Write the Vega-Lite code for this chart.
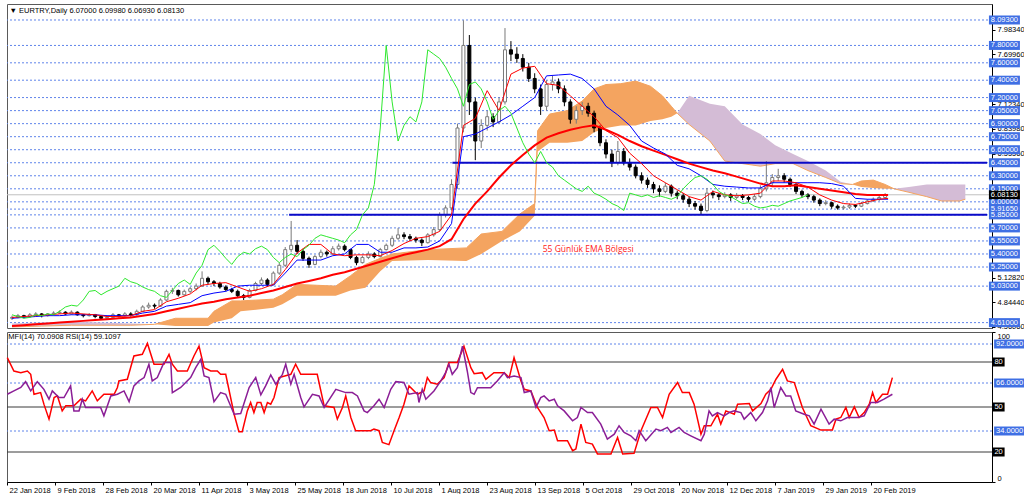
{
"$schema":"https://vega.github.io/schema/vega-lite/v6.json",
"background":"#ffffff",
"padding":{"left":3,"top":3,"right":0,"bottom":0},
"spacing":4,
"bounds":"flush",
"config":{"view":{"stroke":"#5a5a5a","strokeWidth":1},"font":"Liberation Sans","axis":{"labelFont":"Liberation Sans","labelFontSize":7.5,"labelColor":"#000","domainColor":"#000","tickColor":"#000","grid":false}},
"datasets":{
"cd":[
{"i":0,"o":4.66,"h":4.69,"l":4.64,"c":4.67,"g":4.70},
{"i":2,"o":4.67,"h":4.71,"l":4.66,"c":4.69,"g":4.68},
{"i":4,"o":4.69,"h":4.70,"l":4.66,"c":4.68,"g":4.66},
{"i":6,"o":4.68,"h":4.72,"l":4.67,"c":4.70,"g":4.67},
{"i":8,"o":4.70,"h":4.73,"l":4.69,"c":4.71,"g":4.70},
{"i":10,"o":4.71,"h":4.72,"l":4.67,"c":4.69,"g":4.69},
{"i":12,"o":4.69,"h":4.72,"l":4.68,"c":4.71,"g":4.71},
{"i":14,"o":4.71,"h":4.74,"l":4.70,"c":4.72,"g":4.70},
{"i":16,"o":4.72,"h":4.75,"l":4.71,"c":4.73,"g":4.74},
{"i":18,"o":4.73,"h":4.74,"l":4.70,"c":4.71,"g":4.79},
{"i":20,"o":4.71,"h":4.75,"l":4.70,"c":4.73,"g":4.81},
{"i":22,"o":4.73,"h":4.74,"l":4.69,"c":4.70,"g":4.80},
{"i":24,"o":4.70,"h":4.71,"l":4.67,"c":4.69,"g":4.87},
{"i":26,"o":4.69,"h":4.72,"l":4.68,"c":4.70,"g":4.97},
{"i":28,"o":4.70,"h":4.71,"l":4.66,"c":4.68,"g":4.98},
{"i":30,"o":4.68,"h":4.69,"l":4.64,"c":4.66,"g":4.93},
{"i":32,"o":4.66,"h":4.69,"l":4.64,"c":4.67,"g":4.97},
{"i":34,"o":4.67,"h":4.72,"l":4.66,"c":4.70,"g":5.00},
{"i":36,"o":4.70,"h":4.71,"l":4.67,"c":4.69,"g":5.03},
{"i":38,"o":4.69,"h":4.73,"l":4.68,"c":4.71,"g":5.12},
{"i":40,"o":4.71,"h":4.73,"l":4.68,"c":4.70,"g":5.08},
{"i":42,"o":4.70,"h":4.76,"l":4.69,"c":4.74,"g":5.06},
{"i":44,"o":4.74,"h":4.81,"l":4.73,"c":4.79,"g":5.02},
{"i":46,"o":4.79,"h":4.84,"l":4.77,"c":4.81,"g":4.99},
{"i":48,"o":4.81,"h":4.83,"l":4.77,"c":4.80,"g":4.97},
{"i":50,"o":4.80,"h":4.89,"l":4.79,"c":4.87,"g":4.92},
{"i":52,"o":4.87,"h":4.99,"l":4.86,"c":4.97,"g":4.90},
{"i":54,"o":4.97,"h":5.01,"l":4.94,"c":4.98,"g":4.98},
{"i":56,"o":4.98,"h":4.99,"l":4.91,"c":4.93,"g":5.06},
{"i":58,"o":4.93,"h":4.99,"l":4.92,"c":4.97,"g":5.10},
{"i":60,"o":4.97,"h":5.02,"l":4.95,"c":5.00,"g":5.05},
{"i":62,"o":5.00,"h":5.06,"l":4.98,"c":5.03,"g":5.18},
{"i":64,"o":5.03,"h":5.20,"l":5.02,"c":5.12,"g":5.27},
{"i":66,"o":5.12,"h":5.14,"l":5.05,"c":5.08,"g":5.45},
{"i":68,"o":5.08,"h":5.10,"l":5.03,"c":5.06,"g":5.50},
{"i":70,"o":5.06,"h":5.08,"l":5.00,"c":5.02,"g":5.43},
{"i":72,"o":5.02,"h":5.04,"l":4.97,"c":4.99,"g":5.35},
{"i":74,"o":4.99,"h":5.01,"l":4.95,"c":4.97,"g":5.28},
{"i":76,"o":4.97,"h":4.99,"l":4.90,"c":4.92,"g":5.37},
{"i":78,"o":4.92,"h":4.94,"l":4.87,"c":4.90,"g":5.42},
{"i":80,"o":4.90,"h":5.00,"l":4.89,"c":4.98,"g":5.40},
{"i":82,"o":4.98,"h":5.08,"l":4.97,"c":5.06,"g":5.46},
{"i":84,"o":5.06,"h":5.13,"l":5.04,"c":5.10,"g":5.49},
{"i":86,"o":5.10,"h":5.12,"l":5.02,"c":5.05,"g":5.45},
{"i":88,"o":5.05,"h":5.20,"l":5.04,"c":5.18,"g":5.36},
{"i":90,"o":5.18,"h":5.30,"l":5.16,"c":5.27,"g":5.30},
{"i":92,"o":5.27,"h":5.48,"l":5.25,"c":5.45,"g":5.36},
{"i":94,"o":5.45,"h":5.78,"l":5.42,"c":5.50,"g":5.40},
{"i":96,"o":5.50,"h":5.56,"l":5.40,"c":5.43,"g":5.37},
{"i":98,"o":5.43,"h":5.46,"l":5.32,"c":5.35,"g":5.45},
{"i":100,"o":5.35,"h":5.37,"l":5.24,"c":5.28,"g":5.50},
{"i":102,"o":5.28,"h":5.39,"l":5.27,"c":5.37,"g":5.58},
{"i":104,"o":5.37,"h":5.45,"l":5.35,"c":5.42,"g":5.62},
{"i":106,"o":5.42,"h":5.44,"l":5.37,"c":5.40,"g":5.60},
{"i":108,"o":5.40,"h":5.49,"l":5.39,"c":5.46,"g":5.58},
{"i":110,"o":5.46,"h":5.52,"l":5.44,"c":5.49,"g":5.56},
{"i":112,"o":5.49,"h":5.51,"l":5.43,"c":5.45,"g":5.53},
{"i":114,"o":5.45,"h":5.46,"l":5.34,"c":5.36,"g":5.62},
{"i":116,"o":5.36,"h":5.38,"l":5.27,"c":5.30,"g":5.68},
{"i":118,"o":5.30,"h":5.38,"l":5.29,"c":5.36,"g":5.85},
{"i":120,"o":5.36,"h":5.43,"l":5.34,"c":5.40,"g":5.93},
{"i":122,"o":5.40,"h":5.42,"l":5.35,"c":5.37,"g":6.20},
{"i":124,"o":5.37,"h":5.47,"l":5.36,"c":5.45,"g":6.85},
{"i":126,"o":5.45,"h":5.52,"l":5.44,"c":5.50,"g":7.80},
{"i":128,"o":5.50,"h":5.61,"l":5.48,"c":5.58,"g":7.15},
{"i":130,"o":5.58,"h":5.70,"l":5.56,"c":5.62,"g":6.70},
{"i":132,"o":5.62,"h":5.65,"l":5.57,"c":5.60,"g":6.88},
{"i":134,"o":5.60,"h":5.63,"l":5.55,"c":5.58,"g":6.98},
{"i":136,"o":5.58,"h":5.60,"l":5.53,"c":5.56,"g":6.92},
{"i":138,"o":5.56,"h":5.58,"l":5.49,"c":5.53,"g":7.15},
{"i":140,"o":5.53,"h":5.64,"l":5.52,"c":5.62,"g":7.75},
{"i":142,"o":5.62,"h":5.71,"l":5.60,"c":5.68,"g":7.70},
{"i":144,"o":5.68,"h":5.88,"l":5.66,"c":5.85,"g":7.65},
{"i":146,"o":5.85,"h":5.96,"l":5.82,"c":5.93,"g":7.55},
{"i":148,"o":5.93,"h":6.26,"l":5.90,"c":6.20,"g":7.42},
{"i":150,"o":6.20,"h":6.90,"l":6.15,"c":6.85,"g":7.30},
{"i":152,"o":6.85,"h":8.09,"l":6.80,"c":7.80,"g":7.10},
{"i":154,"o":7.80,"h":7.92,"l":7.00,"c":7.15,"g":7.35},
{"i":156,"o":7.15,"h":7.20,"l":6.48,"c":6.70,"g":7.38},
{"i":158,"o":6.70,"h":6.95,"l":6.62,"c":6.88,"g":7.30},
{"i":160,"o":6.88,"h":7.05,"l":6.82,"c":6.98,"g":7.15},
{"i":162,"o":6.98,"h":7.02,"l":6.86,"c":6.92,"g":6.95},
{"i":164,"o":6.92,"h":7.20,"l":6.90,"c":7.15,"g":7.05},
{"i":166,"o":7.15,"h":8.00,"l":7.12,"c":7.75,"g":7.10},
{"i":168,"o":7.75,"h":7.85,"l":7.62,"c":7.70,"g":7.02},
{"i":170,"o":7.70,"h":7.78,"l":7.60,"c":7.65,"g":6.85},
{"i":172,"o":7.65,"h":7.70,"l":7.50,"c":7.55,"g":6.68},
{"i":174,"o":7.55,"h":7.60,"l":7.38,"c":7.42,"g":6.55},
{"i":176,"o":7.42,"h":7.48,"l":7.25,"c":7.30,"g":6.45},
{"i":178,"o":7.30,"h":7.35,"l":7.00,"c":7.10,"g":6.58},
{"i":180,"o":7.10,"h":7.40,"l":7.05,"c":7.35,"g":6.45},
{"i":182,"o":7.35,"h":7.45,"l":7.28,"c":7.38,"g":6.40},
{"i":184,"o":7.38,"h":7.42,"l":7.25,"c":7.30,"g":6.30},
{"i":186,"o":7.30,"h":7.34,"l":7.10,"c":7.15,"g":6.25},
{"i":188,"o":7.15,"h":7.18,"l":6.90,"c":6.95,"g":6.20},
{"i":190,"o":6.95,"h":7.10,"l":6.90,"c":7.05,"g":6.15},
{"i":192,"o":7.05,"h":7.15,"l":7.00,"c":7.10,"g":6.12},
{"i":194,"o":7.10,"h":7.14,"l":6.98,"c":7.02,"g":6.18},
{"i":196,"o":7.02,"h":7.05,"l":6.80,"c":6.85,"g":6.10},
{"i":198,"o":6.85,"h":6.88,"l":6.64,"c":6.68,"g":6.07},
{"i":200,"o":6.68,"h":6.72,"l":6.50,"c":6.55,"g":6.03},
{"i":202,"o":6.55,"h":6.60,"l":6.40,"c":6.45,"g":5.98},
{"i":204,"o":6.45,"h":6.70,"l":6.42,"c":6.58,"g":5.95},
{"i":206,"o":6.58,"h":6.62,"l":6.42,"c":6.45,"g":5.90},
{"i":208,"o":6.45,"h":6.50,"l":6.36,"c":6.40,"g":6.10},
{"i":210,"o":6.40,"h":6.43,"l":6.27,"c":6.30,"g":6.08},
{"i":212,"o":6.30,"h":6.34,"l":6.21,"c":6.25,"g":6.06},
{"i":214,"o":6.25,"h":6.28,"l":6.16,"c":6.20,"g":6.08},
{"i":216,"o":6.20,"h":6.23,"l":6.10,"c":6.15,"g":6.05},
{"i":218,"o":6.15,"h":6.19,"l":6.06,"c":6.12,"g":6.07},
{"i":220,"o":6.12,"h":6.22,"l":6.10,"c":6.18,"g":6.05},
{"i":222,"o":6.18,"h":6.20,"l":6.06,"c":6.10,"g":6.03},
{"i":224,"o":6.10,"h":6.13,"l":6.03,"c":6.07,"g":6.06},
{"i":226,"o":6.07,"h":6.10,"l":5.99,"c":6.03,"g":6.15},
{"i":228,"o":6.03,"h":6.06,"l":5.94,"c":5.98,"g":6.22},
{"i":230,"o":5.98,"h":6.01,"l":5.91,"c":5.95,"g":6.28},
{"i":232,"o":5.95,"h":5.98,"l":5.86,"c":5.90,"g":6.30},
{"i":234,"o":5.90,"h":6.16,"l":5.88,"c":6.10,"g":6.26},
{"i":236,"o":6.10,"h":6.13,"l":6.04,"c":6.08,"g":6.20},
{"i":238,"o":6.08,"h":6.10,"l":6.02,"c":6.06,"g":6.12},
{"i":240,"o":6.06,"h":6.11,"l":6.04,"c":6.08,"g":6.08},
{"i":242,"o":6.08,"h":6.10,"l":6.01,"c":6.05,"g":6.06},
{"i":244,"o":6.05,"h":6.10,"l":6.03,"c":6.07,"g":6.02},
{"i":246,"o":6.07,"h":6.09,"l":6.02,"c":6.05,"g":5.98},
{"i":248,"o":6.05,"h":6.07,"l":6.00,"c":6.03,"g":5.99},
{"i":250,"o":6.03,"h":6.09,"l":6.01,"c":6.06,"g":5.95},
{"i":252,"o":6.06,"h":6.19,"l":6.04,"c":6.15,"g":5.93},
{"i":254,"o":6.15,"h":6.47,"l":6.12,"c":6.22,"g":5.94},
{"i":256,"o":6.22,"h":6.32,"l":6.18,"c":6.28,"g":5.96},
{"i":258,"o":6.28,"h":6.38,"l":6.24,"c":6.30,"g":5.95},
{"i":260,"o":6.30,"h":6.33,"l":6.22,"c":6.26,"g":5.98},
{"i":262,"o":6.26,"h":6.28,"l":6.17,"c":6.20,"g":6.01},
{"i":264,"o":6.20,"h":6.22,"l":6.09,"c":6.12,"g":6.03},
{"i":266,"o":6.12,"h":6.14,"l":6.05,"c":6.08,"g":6.05},
{"i":268,"o":6.08,"h":6.10,"l":6.03,"c":6.06,"g":6.08},
{"i":270,"o":6.06,"h":6.08,"l":5.99,"c":6.02},
{"i":272,"o":6.02,"h":6.04,"l":5.95,"c":5.98},
{"i":274,"o":5.98,"h":6.02,"l":5.96,"c":5.99},
{"i":276,"o":5.99,"h":6.00,"l":5.92,"c":5.95},
{"i":278,"o":5.95,"h":5.97,"l":5.91,"c":5.93},
{"i":280,"o":5.93,"h":5.96,"l":5.91,"c":5.94},
{"i":282,"o":5.94,"h":5.98,"l":5.92,"c":5.96},
{"i":284,"o":5.96,"h":5.97,"l":5.93,"c":5.95},
{"i":286,"o":5.95,"h":6.00,"l":5.94,"c":5.98},
{"i":288,"o":5.98,"h":6.03,"l":5.97,"c":6.01},
{"i":290,"o":6.01,"h":6.05,"l":6.00,"c":6.03},
{"i":292,"o":6.03,"h":6.07,"l":6.01,"c":6.05},
{"i":294,"o":6.05,"h":6.10,"l":6.04,"c":6.08}
],
"ln":[
{"i":0,"t":4.67,"k":4.66,"e":4.57},{"i":4,"t":4.68,"k":4.67,"e":4.58},{"i":8,"t":4.69,"k":4.68,"e":4.59},{"i":12,"t":4.70,"k":4.69,"e":4.60},
{"i":16,"t":4.71,"k":4.69,"e":4.61},{"i":20,"t":4.72,"k":4.70,"e":4.62},{"i":24,"t":4.71,"k":4.70,"e":4.63},{"i":28,"t":4.70,"k":4.70,"e":4.64},
{"i":32,"t":4.68,"k":4.69,"e":4.65},{"i":36,"t":4.68,"k":4.69,"e":4.66},{"i":40,"t":4.69,"k":4.69,"e":4.67},{"i":44,"t":4.74,"k":4.72,"e":4.69},
{"i":48,"t":4.76,"k":4.74,"e":4.71},{"i":52,"t":4.85,"k":4.80,"e":4.74},{"i":56,"t":4.89,"k":4.82,"e":4.77},{"i":60,"t":4.94,"k":4.84,"e":4.80},
{"i":64,"t":5.04,"k":4.92,"e":4.83},{"i":68,"t":5.06,"k":4.95,"e":4.85},{"i":72,"t":5.07,"k":4.97,"e":4.88},{"i":76,"t":5.02,"k":5.03,"e":4.90},
{"i":80,"t":4.97,"k":5.04,"e":4.92},{"i":84,"t":5.00,"k":5.04,"e":4.95},{"i":88,"t":5.05,"k":5.04,"e":4.98},{"i":92,"t":5.22,"k":5.18,"e":5.02},
{"i":96,"t":5.41,"k":5.33,"e":5.06},{"i":100,"t":5.51,"k":5.33,"e":5.09},{"i":104,"t":5.51,"k":5.33,"e":5.12},{"i":108,"t":5.40,"k":5.38,"e":5.16},
{"i":112,"t":5.38,"k":5.40,"e":5.19},{"i":116,"t":5.39,"k":5.51,"e":5.23},{"i":120,"t":5.39,"k":5.51,"e":5.27},{"i":124,"t":5.38,"k":5.42,"e":5.31},
{"i":128,"t":5.44,"k":5.42,"e":5.35},{"i":132,"t":5.52,"k":5.47,"e":5.39},{"i":136,"t":5.58,"k":5.47,"e":5.42},{"i":140,"t":5.60,"k":5.48,"e":5.45},
{"i":144,"t":5.66,"k":5.55,"e":5.49},{"i":148,"t":5.85,"k":5.75,"e":5.57},{"i":152,"t":6.88,"k":6.75,"e":5.80},{"i":156,"t":6.96,"k":6.78,"e":5.98},
{"i":160,"t":7.28,"k":6.85,"e":6.12},{"i":164,"t":7.05,"k":6.92,"e":6.28},{"i":168,"t":7.47,"k":7.00,"e":6.42},{"i":172,"t":7.54,"k":7.10,"e":6.54},
{"i":176,"t":7.56,"k":7.20,"e":6.65},{"i":180,"t":7.36,"k":7.45,"e":6.74},{"i":184,"t":7.34,"k":7.46,"e":6.79},{"i":188,"t":7.22,"k":7.47,"e":6.83},
{"i":192,"t":7.10,"k":7.42,"e":6.86},{"i":196,"t":6.98,"k":7.30,"e":6.88},{"i":200,"t":6.82,"k":7.10,"e":6.83},{"i":204,"t":6.74,"k":7.00,"e":6.77},
{"i":208,"t":6.56,"k":6.88,"e":6.70},{"i":212,"t":6.44,"k":6.70,"e":6.64},{"i":216,"t":6.30,"k":6.62,"e":6.59},{"i":220,"t":6.22,"k":6.55,"e":6.54},
{"i":224,"t":6.14,"k":6.42,"e":6.49},{"i":228,"t":6.06,"k":6.38,"e":6.44},{"i":232,"t":6.02,"k":6.30,"e":6.40},{"i":236,"t":6.12,"k":6.20,"e":6.36},
{"i":240,"t":6.08,"k":6.18,"e":6.33},{"i":244,"t":6.07,"k":6.17,"e":6.29},{"i":248,"t":6.08,"k":6.16,"e":6.25},{"i":252,"t":6.10,"k":6.16,"e":6.21},
{"i":256,"t":6.24,"k":6.22,"e":6.18},{"i":260,"t":6.24,"k":6.22,"e":6.18},{"i":264,"t":6.22,"k":6.22,"e":6.19},{"i":268,"t":6.17,"k":6.22,"e":6.17},
{"i":272,"t":6.08,"k":6.22,"e":6.15},{"i":276,"t":6.02,"k":6.21,"e":6.13},{"i":280,"t":5.98,"k":6.18,"e":6.11},{"i":284,"t":5.97,"k":6.04,"e":6.09},
{"i":288,"t":6.00,"k":6.03,"e":6.08},{"i":292,"t":6.03,"k":6.03,"e":6.08},{"i":295,"t":6.04,"k":6.03,"e":6.08}
],
"cl":[
{"s":1,"k":"d","i":0,"a":4.56,"b":4.60},{"s":1,"k":"d","i":10,"a":4.57,"b":4.61},{"s":1,"k":"d","i":20,"a":4.58,"b":4.62},{"s":1,"k":"d","i":30,"a":4.58,"b":4.61},{"s":1,"k":"d","i":40,"a":4.58,"b":4.60},{"s":1,"k":"d","i":48,"a":4.59,"b":4.59},
{"s":2,"k":"u","i":48,"a":4.59,"b":4.59},{"s":2,"k":"u","i":55,"a":4.66,"b":4.57},{"s":2,"k":"u","i":66,"a":4.66,"b":4.57},{"s":2,"k":"u","i":68,"a":4.74,"b":4.61},{"s":2,"k":"u","i":74,"a":4.86,"b":4.66},{"s":2,"k":"u","i":77,"a":4.86,"b":4.74},{"s":2,"k":"u","i":88,"a":4.88,"b":4.78},{"s":2,"k":"u","i":91,"a":4.93,"b":4.82},{"s":2,"k":"u","i":96,"a":5.05,"b":4.92},{"s":2,"k":"u","i":109,"a":5.03,"b":4.92},{"s":2,"k":"u","i":114,"a":5.15,"b":4.98},{"s":2,"k":"u","i":119,"a":5.28,"b":5.01},{"s":2,"k":"u","i":124,"a":5.35,"b":5.20},{"s":2,"k":"u","i":128,"a":5.40,"b":5.32},{"s":2,"k":"u","i":140,"a":5.45,"b":5.33},{"s":2,"k":"u","i":153,"a":5.47,"b":5.32},{"s":2,"k":"u","i":158,"a":5.63,"b":5.40},{"s":2,"k":"u","i":165,"a":5.66,"b":5.55},{"s":2,"k":"u","i":171,"a":5.86,"b":5.66},{"s":2,"k":"u","i":176,"a":5.98,"b":5.84},{"s":2,"k":"u","i":177,"a":6.82,"b":6.58},{"s":2,"k":"u","i":181,"a":7.01,"b":6.68},{"s":2,"k":"u","i":187,"a":7.05,"b":6.68},{"s":2,"k":"u","i":192,"a":7.16,"b":6.70},{"s":2,"k":"u","i":196,"a":7.30,"b":6.80},{"s":2,"k":"u","i":200,"a":7.35,"b":6.85},{"s":2,"k":"u","i":205,"a":7.36,"b":6.88},{"s":2,"k":"u","i":210,"a":7.39,"b":6.88},{"s":2,"k":"u","i":215,"a":7.33,"b":6.93},{"s":2,"k":"u","i":219,"a":7.22,"b":6.95},{"s":2,"k":"u","i":222,"a":7.10,"b":6.98},{"s":2,"k":"u","i":224,"a":7.02,"b":7.02},
{"s":3,"k":"d","i":224,"a":7.02,"b":7.02},{"s":3,"k":"d","i":228,"a":6.89,"b":7.22},{"s":3,"k":"d","i":235,"a":6.70,"b":7.13},{"s":3,"k":"d","i":240,"a":6.47,"b":7.10},{"s":3,"k":"d","i":246,"a":6.44,"b":6.89},{"s":3,"k":"d","i":252,"a":6.41,"b":6.78},{"s":3,"k":"d","i":257,"a":6.44,"b":6.65},{"s":3,"k":"d","i":263,"a":6.44,"b":6.55},{"s":3,"k":"d","i":268,"a":6.36,"b":6.47},{"s":3,"k":"d","i":274,"a":6.28,"b":6.36},{"s":3,"k":"d","i":279,"a":6.21,"b":6.23},{"s":3,"k":"d","i":283,"a":6.20,"b":6.20},
{"s":4,"k":"u","i":283,"a":6.20,"b":6.20},{"s":4,"k":"u","i":286,"a":6.24,"b":6.17},{"s":4,"k":"u","i":290,"a":6.25,"b":6.16},{"s":4,"k":"u","i":294,"a":6.20,"b":6.15},{"s":4,"k":"u","i":297,"a":6.15,"b":6.15},
{"s":5,"k":"d","i":297,"a":6.15,"b":6.15},{"s":5,"k":"d","i":302,"a":6.11,"b":6.17},{"s":5,"k":"d","i":308,"a":6.06,"b":6.20},{"s":5,"k":"d","i":313,"a":6.01,"b":6.20},{"s":5,"k":"d","i":319,"a":6.01,"b":6.20},{"s":5,"k":"d","i":321,"a":6.03,"b":6.20}
],
"mf":[
{"i":0.1,"v":82.9},{"i":2.3,"v":74},{"i":4.6,"v":72.9},{"i":6.8,"v":74},{"i":7.9,"v":71.8},{"i":9,"v":58.5},{"i":11.2,"v":59.6},{"i":12.3,"v":51.9},{"i":14,"v":41.9},{"i":15.7,"v":56.3},{"i":16.8,"v":57.4},{"i":18.4,"v":47.4},{"i":19.6,"v":50.8},{"i":22.3,"v":50.8},{"i":24.6,"v":55.2},{"i":26.2,"v":54.1},{"i":28.4,"v":60.7},{"i":30.1,"v":54.1},{"i":32.3,"v":58.5},{"i":35.7,"v":58.5},{"i":36.8,"v":63},{"i":37.3,"v":67.4},{"i":40.1,"v":68.5},{"i":42.3,"v":84},{"i":45.1,"v":85.1},{"i":46.8,"v":92.4},{"i":49,"v":78.5},{"i":52.3,"v":78.5},{"i":54,"v":85.1},{"i":55.1,"v":78.5},{"i":56.8,"v":74},{"i":60.1,"v":74},{"i":62.3,"v":84},{"i":64,"v":90.6},{"i":65.7,"v":76.2},{"i":67.9,"v":74},{"i":70.1,"v":74},{"i":71.2,"v":71.8},{"i":72.9,"v":71.8},{"i":75.7,"v":45.2},{"i":77.3,"v":33.5},{"i":78.4,"v":33.5},{"i":80.1,"v":47.4},{"i":81.2,"v":53},{"i":82.3,"v":46.3},{"i":83.4,"v":53},{"i":84.6,"v":53},{"i":85.7,"v":46.3},{"i":86.8,"v":53},{"i":87.9,"v":51.9},{"i":89,"v":56.3},{"i":90.7,"v":69.6},{"i":94.6,"v":71.8},{"i":96.2,"v":78.5},{"i":97.9,"v":71.8},{"i":103.4,"v":71.8},{"i":105.7,"v":50.8},{"i":109,"v":49.7},{"i":110.1,"v":41.9},{"i":111.8,"v":49.7},{"i":112.9,"v":57.4},{"i":114.6,"v":43},{"i":116.2,"v":34.2},{"i":121.2,"v":34.2},{"i":122.3,"v":35.3},{"i":124,"v":34.2},{"i":125.1,"v":26.4},{"i":127.3,"v":24.9},{"i":129,"v":34.2},{"i":130.7,"v":43},{"i":132.3,"v":51.9},{"i":134,"v":64.1},{"i":136.8,"v":58.5},{"i":139,"v":60.7},{"i":140.1,"v":69.6},{"i":141.2,"v":66.3},{"i":143.4,"v":65.2},{"i":145.7,"v":69.6},{"i":147.3,"v":79.6},{"i":150.1,"v":79.6},{"i":152.3,"v":90.6},{"i":154.6,"v":76.2},{"i":155.7,"v":72.2},{"i":158.4,"v":72.9},{"i":159.6,"v":68.5},{"i":162.3,"v":72.9},{"i":165.7,"v":72.9},{"i":167.4,"v":69.6},{"i":169,"v":82.9},{"i":171.3,"v":67.4},{"i":172.4,"v":61.8},{"i":174.6,"v":60.7},{"i":176.8,"v":49.7},{"i":179,"v":43},{"i":180.7,"v":34.2},{"i":182.4,"v":34.6},{"i":183.5,"v":27.5},{"i":186.8,"v":27.5},{"i":188.5,"v":20.9},{"i":189.6,"v":22},{"i":191.3,"v":38.6},{"i":192.9,"v":26.4},{"i":195.1,"v":25.3},{"i":196.8,"v":18.7},{"i":201.3,"v":18.7},{"i":203.5,"v":29.7},{"i":205.2,"v":18.7},{"i":209,"v":19.1},{"i":211.3,"v":34.2},{"i":214.6,"v":49.7},{"i":216.8,"v":49.7},{"i":218.5,"v":43},{"i":220.7,"v":58.5},{"i":223.5,"v":66.3},{"i":225.1,"v":59.6},{"i":227.4,"v":59.6},{"i":229,"v":51.9},{"i":231.3,"v":31.9},{"i":232.4,"v":37.5},{"i":234.6,"v":37.5},{"i":236.8,"v":45.2},{"i":237.9,"v":38.6},{"i":239.6,"v":47.4},{"i":242.4,"v":45.2},{"i":243.5,"v":51.9},{"i":247.4,"v":52.3},{"i":248.5,"v":47.4},{"i":251.3,"v":52.3},{"i":252.9,"v":58.5},{"i":254.6,"v":61.8},{"i":256.3,"v":68.5},{"i":258.5,"v":75.1},{"i":260.1,"v":67.4},{"i":262.4,"v":66.3},{"i":265.1,"v":49.7},{"i":267.9,"v":37.5},{"i":271.3,"v":34.6},{"i":275.1,"v":34.6},{"i":276.3,"v":41.9},{"i":277.9,"v":43},{"i":279.6,"v":49.7},{"i":280.7,"v":43},{"i":282.4,"v":50.1},{"i":284,"v":43},{"i":285.7,"v":46.3},{"i":287.4,"v":51.9},{"i":288.5,"v":59.6},{"i":289.6,"v":53},{"i":291.8,"v":58.5},{"i":293.5,"v":58.5},{"i":295.1,"v":69.6}
],
"rs":[
{"i":0.1,"v":58.5},{"i":2.3,"v":60.7},{"i":4.6,"v":63},{"i":6.2,"v":66.9},{"i":7.9,"v":60.7},{"i":10.1,"v":66.9},{"i":12.3,"v":61.8},{"i":14,"v":55.2},{"i":15.1,"v":60.7},{"i":17.3,"v":56.3},{"i":19,"v":56.3},{"i":21.2,"v":64.1},{"i":22.3,"v":47.4},{"i":24,"v":47.4},{"i":25.1,"v":55.2},{"i":26.2,"v":49.7},{"i":29,"v":49.7},{"i":31.2,"v":49.7},{"i":32.3,"v":44.1},{"i":34.6,"v":57.4},{"i":36.8,"v":58.5},{"i":39,"v":60.7},{"i":40.7,"v":53.6},{"i":42.3,"v":64.1},{"i":44,"v":67.4},{"i":45.7,"v":69.6},{"i":47.3,"v":78.5},{"i":48.4,"v":67.4},{"i":50.1,"v":69.6},{"i":52.3,"v":79.6},{"i":54.6,"v":79.6},{"i":55.1,"v":59.6},{"i":57.9,"v":63},{"i":61.2,"v":69.6},{"i":62.9,"v":76.2},{"i":64.6,"v":81.8},{"i":65.7,"v":70.7},{"i":67.3,"v":69.6},{"i":69,"v":53.6},{"i":71.2,"v":59.6},{"i":72.9,"v":58.5},{"i":75.7,"v":45.2},{"i":77.9,"v":45.7},{"i":80.7,"v":63},{"i":82.9,"v":69.6},{"i":84.6,"v":58.1},{"i":86.2,"v":64.1},{"i":87.9,"v":71.4},{"i":89.6,"v":65.2},{"i":91.8,"v":71.8},{"i":92.9,"v":78.5},{"i":94.6,"v":65.2},{"i":95.7,"v":71.8},{"i":97.9,"v":56.3},{"i":99,"v":50.1},{"i":101.8,"v":58.5},{"i":104,"v":57.4},{"i":105.7,"v":49.7},{"i":109.6,"v":61.8},{"i":112.9,"v":59.6},{"i":115.1,"v":59.6},{"i":116.8,"v":57.4},{"i":119,"v":47.4},{"i":120.1,"v":46.3},{"i":122.3,"v":50.8},{"i":124,"v":55.2},{"i":125.7,"v":49.7},{"i":127.9,"v":61.8},{"i":129.6,"v":66.9},{"i":132.3,"v":66.3},{"i":134,"v":58.5},{"i":136.8,"v":59.6},{"i":137.3,"v":53},{"i":138.4,"v":61.8},{"i":139.6,"v":55.2},{"i":142.3,"v":60.7},{"i":144.6,"v":67.4},{"i":146.2,"v":72.9},{"i":147.3,"v":78.5},{"i":148.4,"v":71.8},{"i":150.1,"v":76.2},{"i":151.8,"v":90.6},{"i":153.4,"v":74},{"i":154.6,"v":59.6},{"i":155.7,"v":58.5},{"i":156.8,"v":62.9},{"i":161.2,"v":62.9},{"i":163.4,"v":67.4},{"i":165.7,"v":72.9},{"i":166.8,"v":69.6},{"i":169,"v":70.7},{"i":171.3,"v":69.6},{"i":172.4,"v":59.6},{"i":174.6,"v":60.7},{"i":176.3,"v":49.7},{"i":177.9,"v":56.3},{"i":179,"v":57.4},{"i":180.7,"v":54.1},{"i":182.4,"v":55.2},{"i":183.5,"v":50.8},{"i":185.7,"v":47.4},{"i":188.5,"v":40.8},{"i":190.1,"v":43},{"i":191.3,"v":49.7},{"i":193.5,"v":46.3},{"i":195.1,"v":46.3},{"i":197.9,"v":38.6},{"i":200.1,"v":28.6},{"i":202.4,"v":31.9},{"i":204,"v":37.5},{"i":205.7,"v":33},{"i":207.9,"v":30.8},{"i":209.6,"v":27.5},{"i":210.7,"v":34.2},{"i":212.9,"v":27.5},{"i":216.3,"v":35.3},{"i":217.9,"v":34.2},{"i":220.1,"v":36.4},{"i":221.3,"v":33},{"i":224,"v":36.4},{"i":225.7,"v":33},{"i":227.9,"v":30.8},{"i":231.3,"v":27.5},{"i":232.4,"v":31.9},{"i":234,"v":47.4},{"i":235.1,"v":44.1},{"i":236.8,"v":46.3},{"i":239,"v":44.1},{"i":240.7,"v":46.3},{"i":242.4,"v":47.4},{"i":244.6,"v":46.3},{"i":245.7,"v":41.9},{"i":247.9,"v":46.3},{"i":249.6,"v":40.8},{"i":251.8,"v":46.3},{"i":253.5,"v":54.1},{"i":254.6,"v":63},{"i":255.7,"v":49.7},{"i":257.9,"v":63},{"i":259.6,"v":57.4},{"i":261.2,"v":57.4},{"i":262.9,"v":47.4},{"i":265.7,"v":45.2},{"i":267.4,"v":44.1},{"i":269,"v":38.6},{"i":271.3,"v":48.6},{"i":274,"v":38.6},{"i":275.7,"v":41.9},{"i":277.9,"v":40.8},{"i":280.1,"v":43},{"i":283.5,"v":43},{"i":285.7,"v":44.1},{"i":287.9,"v":53},{"i":290.1,"v":53},{"i":292.3,"v":55.2},{"i":295.1,"v":58.5}
],
"lv":[{"p":8.093},{"p":7.8},{"p":7.6},{"p":7.4},{"p":7.2},{"p":7.05},{"p":6.9},{"p":6.75},{"p":6.6},{"p":6.45},{"p":6.3},{"p":6.15},{"p":6.0},{"p":5.9165},{"p":5.85},{"p":5.7},{"p":5.55},{"p":5.4},{"p":5.25},{"p":5.03},{"p":4.61}],
"bx":[{"p":8.093,"k":"b"},{"p":7.8,"k":"b"},{"p":7.6,"k":"b"},{"p":7.4,"k":"b"},{"p":7.2,"k":"b"},{"p":7.05,"k":"b"},{"p":6.9,"k":"b"},{"p":6.75,"k":"b"},{"p":6.6,"k":"b"},{"p":6.45,"k":"b"},{"p":6.3,"k":"b"},{"p":6.15,"k":"b"},{"p":6.0,"k":"b"},{"p":5.9165,"k":"b"},{"p":5.85,"k":"b"},{"p":5.7,"k":"b"},{"p":5.55,"k":"b"},{"p":5.4,"k":"b"},{"p":5.25,"k":"b"},{"p":5.03,"k":"b"},{"p":4.61,"k":"b"},{"p":6.0813,"k":"k"}]
},
"vconcat":[
{
"width":985,"height":324,
"title":{"text":"▼ EURTRY,Daily  6.07000 6.09980 6.06930 6.08130","anchor":"start","orient":"top","offset":-10,"dx":3,"fontSize":7.5,"fontWeight":"normal","font":"Liberation Sans","color":"#000"},
"layer":[
{"data":{"name":"lv"},"mark":{"type":"rule","stroke":"#5f84ea","strokeWidth":1,"strokeDash":[2,2]},
 "encoding":{"y":{"field":"p","type":"quantitative","scale":{"domain":[4.548,8.277],"nice":false,"zero":false},"axis":{"orient":"right","title":null,"values":[7.9834,7.6996,7.1234,6.8398,6.5556,5.1282,4.8444,4.5606],"format":".5f","tickSize":3,"labelPadding":2,"labelOverlap":false,"labelFlush":false}}}},
{"data":{"values":[{"p":6.0813}]},"mark":{"type":"rule","stroke":"#c0c0c0","strokeWidth":1},
 "encoding":{"y":{"field":"p","type":"quantitative","scale":{"domain":[4.548,8.277],"nice":false,"zero":false}}}},
{"data":{"name":"cl"},"mark":{"type":"area","opacity":1},
 "encoding":{"x":{"field":"i","type":"quantitative","scale":{"domain":[0,328.3],"nice":false,"zero":false},"axis":null},
  "y":{"field":"a","type":"quantitative","scale":{"domain":[4.548,8.277],"nice":false,"zero":false}},
  "y2":{"field":"b"},"detail":{"field":"s","type":"nominal"},
  "fill":{"condition":{"test":"datum.k==='u'","value":"#f4a460"},"value":"#d4bcd6"}}},
{"data":{"name":"cl"},"mark":{"type":"line","stroke":"#f4a460","strokeWidth":1},
 "encoding":{"x":{"field":"i","type":"quantitative","scale":{"domain":[0,328.3],"nice":false,"zero":false},"axis":null},
  "y":{"field":"a","type":"quantitative","scale":{"domain":[4.548,8.277],"nice":false,"zero":false}},
  "detail":{"field":"s","type":"nominal"}}},
{"data":{"name":"cd"},"mark":{"type":"rule","strokeWidth":1},
 "encoding":{"x":{"field":"i","type":"quantitative","scale":{"domain":[0,328.3],"nice":false,"zero":false},"axis":null},
  "y":{"field":"l","type":"quantitative","scale":{"domain":[4.548,8.277],"nice":false,"zero":false}},
  "y2":{"field":"h"},
  "stroke":{"condition":{"test":"datum.c>=datum.o","value":"#7a7a7a"},"value":"#000000"}}},
{"data":{"name":"cd"},"mark":{"type":"bar","orient":"vertical","size":3,"strokeWidth":1},
 "encoding":{"x":{"field":"i","type":"quantitative","scale":{"domain":[0,328.3],"nice":false,"zero":false},"axis":null},
  "y":{"field":"o","type":"quantitative","scale":{"domain":[4.548,8.277],"nice":false,"zero":false}},
  "y2":{"field":"c"},
  "fill":{"condition":{"test":"datum.c>=datum.o","value":"#ffffff"},"value":"#000000"},
  "stroke":{"condition":{"test":"datum.c>=datum.o","value":"#7a7a7a"},"value":"#000000"}}},
{"data":{"values":[{"p":6.45,"a":148.3},{"p":5.85,"a":93.3}]},"mark":{"type":"rule","stroke":"#0a0ac8","strokeWidth":2},
 "encoding":{"x":{"field":"a","type":"quantitative","scale":{"domain":[0,328.3],"nice":false,"zero":false},"axis":null},
  "x2":{"datum":328.3},
  "y":{"field":"p","type":"quantitative","scale":{"domain":[4.548,8.277],"nice":false,"zero":false}}}},
{"data":{"name":"ln"},"mark":{"type":"line","stroke":"#ff0000","strokeWidth":2},
 "encoding":{"x":{"field":"i","type":"quantitative","scale":{"domain":[0,328.3],"nice":false,"zero":false},"axis":null},
  "y":{"field":"e","type":"quantitative","scale":{"domain":[4.548,8.277],"nice":false,"zero":false}}}},
{"data":{"name":"ln"},"mark":{"type":"line","stroke":"#0000ff","strokeWidth":1},
 "encoding":{"x":{"field":"i","type":"quantitative","scale":{"domain":[0,328.3],"nice":false,"zero":false},"axis":null},
  "y":{"field":"k","type":"quantitative","scale":{"domain":[4.548,8.277],"nice":false,"zero":false}}}},
{"data":{"name":"ln"},"mark":{"type":"line","stroke":"#ff0000","strokeWidth":1},
 "encoding":{"x":{"field":"i","type":"quantitative","scale":{"domain":[0,328.3],"nice":false,"zero":false},"axis":null},
  "y":{"field":"t","type":"quantitative","scale":{"domain":[4.548,8.277],"nice":false,"zero":false}}}},
{"data":{"name":"cd"},"transform":[{"filter":"isValid(datum.g)"}],"mark":{"type":"line","stroke":"#2ee82e","strokeWidth":1},
 "encoding":{"x":{"field":"i","type":"quantitative","scale":{"domain":[0,328.3],"nice":false,"zero":false},"axis":null},
  "y":{"field":"g","type":"quantitative","scale":{"domain":[4.548,8.277],"nice":false,"zero":false}}}},
{"data":{"values":[{"t":"55 Günlük EMA Bölgesi"}]},"mark":{"type":"text","color":"#ff2020","fontSize":8.5,"font":"Open Sans","align":"center","baseline":"middle"},
 "encoding":{"x":{"datum":194,"type":"quantitative","scale":{"domain":[0,328.3],"nice":false,"zero":false},"axis":null},
  "y":{"datum":5.46,"type":"quantitative","scale":{"domain":[4.548,8.277],"nice":false,"zero":false}},
  "text":{"field":"t"}}},
{"data":{"name":"bx"},"mark":{"type":"point","shape":"M-1,-0.29H1V0.29H-1Z","size":961,"filled":true,"opacity":1,"strokeWidth":0},
 "encoding":{"x":{"datum":334.17,"type":"quantitative","scale":{"domain":[0,328.3],"nice":false,"zero":false},"axis":null},
  "y":{"field":"p","type":"quantitative","scale":{"domain":[4.548,8.277],"nice":false,"zero":false}},
  "fill":{"condition":{"test":"datum.k==='k'","value":"#000000"},"value":"#3f6fe4"}}},
{"data":{"name":"bx"},"mark":{"type":"text","color":"#ffffff","fontSize":7.5,"font":"Liberation Sans","align":"center","baseline":"middle"},
 "encoding":{"x":{"datum":334.17,"type":"quantitative","scale":{"domain":[0,328.3],"nice":false,"zero":false},"axis":null},
  "y":{"field":"p","type":"quantitative","scale":{"domain":[4.548,8.277],"nice":false,"zero":false}},
  "text":{"field":"p","type":"quantitative","format":".5f"}}}
]
},
{
"width":985,"height":150,
"title":{"text":"MFI(14) 70.0908  RSI(14) 59.1097","anchor":"start","orient":"top","offset":-9,"dx":4,"fontSize":7.5,"fontWeight":"normal","font":"Liberation Sans","color":"#000"},
"layer":[
{"data":{"values":[{"v":92},{"v":66},{"v":34}]},"mark":{"type":"rule","stroke":"#5f84ea","strokeWidth":1,"strokeDash":[2,2]},
 "encoding":{"y":{"field":"v","type":"quantitative","scale":{"domain":[0,100],"nice":false,"zero":false},"axis":{"orient":"right","title":null,"values":[0,100],"format":"d","tickSize":3,"labelPadding":2,"labelFlush":true,"labelOverlap":false}}}},
{"data":{"values":[{"v":80},{"v":50},{"v":20}]},"mark":{"type":"rule","stroke":"#3a3a3a","strokeWidth":1},
 "encoding":{"y":{"field":"v","type":"quantitative","scale":{"domain":[0,100],"nice":false,"zero":false}}}},
{"data":{"name":"mf"},"mark":{"type":"line","stroke":"#ff0000","strokeWidth":1.5},
 "encoding":{"x":{"field":"i","type":"quantitative","scale":{"domain":[0,328.3],"nice":false,"zero":false},
   "axis":{"orient":"bottom","title":null,"values":[0,16,32,48,64,80,96,112,128,144,160,176,192,208,224,240,256,272,288],
    "labelExpr":"['22 Jan 2018','9 Feb 2018','28 Feb 2018','20 Mar 2018','11 Apr 2018','3 May 2018','25 May 2018','18 Jun 2018','10 Jul 2018','1 Aug 2018','23 Aug 2018','13 Sep 2018','5 Oct 2018','29 Oct 2018','20 Nov 2018','12 Dec 2018','7 Jan 2019','29 Jan 2019','20 Feb 2019'][round(datum.value/16)]",
    "labelAlign":"left","labelBaseline":"top","labelPadding":1,"labelOffset":2,"tickSize":3,"labelOverlap":false,"labelFlush":false,"labelBound":false}},
  "y":{"field":"v","type":"quantitative","scale":{"domain":[0,100],"nice":false,"zero":false}}}},
{"data":{"name":"rs"},"mark":{"type":"line","stroke":"#8b1e96","strokeWidth":1.5},
 "encoding":{"x":{"field":"i","type":"quantitative","scale":{"domain":[0,328.3],"nice":false,"zero":false}},
  "y":{"field":"v","type":"quantitative","scale":{"domain":[0,100],"nice":false,"zero":false}}}},
{"data":{"values":[{"v":92},{"v":66},{"v":34}]},"mark":{"type":"point","shape":"M-1,-0.29H1V0.29H-1Z","size":961,"filled":true,"opacity":1,"strokeWidth":0,"fill":"#3f6fe4"},
 "encoding":{"x":{"datum":334.17,"type":"quantitative","scale":{"domain":[0,328.3],"nice":false,"zero":false}},
  "y":{"field":"v","type":"quantitative","scale":{"domain":[0,100],"nice":false,"zero":false}}}},
{"data":{"values":[{"v":92},{"v":66},{"v":34}]},"mark":{"type":"text","color":"#ffffff","fontSize":7.5,"font":"Liberation Sans","align":"center","baseline":"middle"},
 "encoding":{"x":{"datum":334.17,"type":"quantitative","scale":{"domain":[0,328.3],"nice":false,"zero":false}},
  "y":{"field":"v","type":"quantitative","scale":{"domain":[0,100],"nice":false,"zero":false}},
  "text":{"field":"v","type":"quantitative","format":".4f"}}},
{"data":{"values":[{"v":80},{"v":50},{"v":20}]},"mark":{"type":"point","shape":"M-1,-0.75H1V0.75H-1Z","size":144,"filled":true,"opacity":1,"strokeWidth":0,"fill":"#000000"},
 "encoding":{"x":{"datum":330.5,"type":"quantitative","scale":{"domain":[0,328.3],"nice":false,"zero":false}},
  "y":{"field":"v","type":"quantitative","scale":{"domain":[0,100],"nice":false,"zero":false}}}},
{"data":{"values":[{"v":80},{"v":50},{"v":20}]},"mark":{"type":"text","color":"#ffffff","fontSize":7.5,"font":"Liberation Sans","align":"center","baseline":"middle"},
 "encoding":{"x":{"datum":330.5,"type":"quantitative","scale":{"domain":[0,328.3],"nice":false,"zero":false}},
  "y":{"field":"v","type":"quantitative","scale":{"domain":[0,100],"nice":false,"zero":false}},
  "text":{"field":"v","type":"quantitative","format":"d"}}}
]
}
]
}
